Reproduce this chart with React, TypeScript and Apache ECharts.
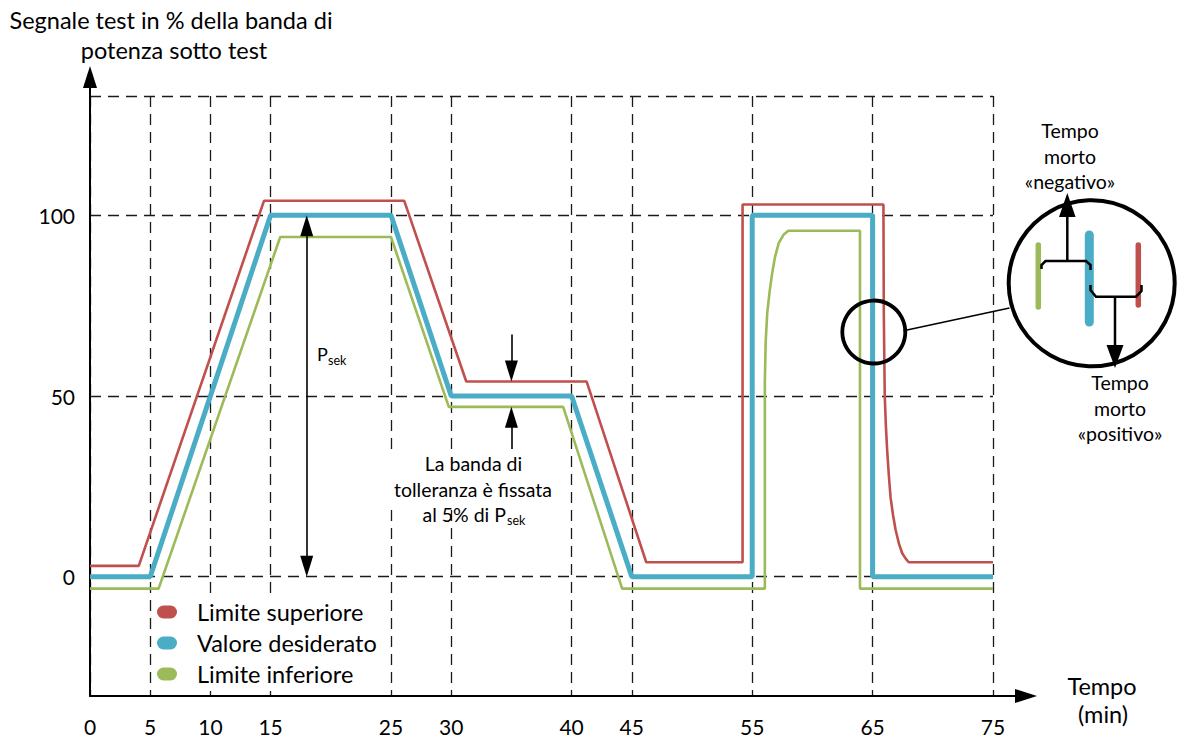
import React, { useEffect, useRef } from "react";
import * as echarts from "echarts";

// ---------- data ----------
const xTicks = [0, 5, 10, 15, 25, 30, 40, 45, 55, 65, 75];
const yLabelValues = [0, 50, 100];
const yGridValues = [0, 50, 100, 133];

const seriesNames = ["Limite superiore", "Valore desiderato", "Limite inferiore"];
const seriesColors = ["#C0504D", "#4BACC6", "#9BBB59"];

const upperLimit: [number, number][] = [
  [0, 3], [4.05, 3], [14.45, 104], [26.1, 104], [31.25, 54], [41.25, 54],
  [46.2, 4], [54.2, 4], [54.2, 103], [65.9, 103], [65.93, 73], [66.01, 50],
  [66.1, 42], [66.21, 35], [66.35, 28], [66.49, 22], [66.7, 17], [66.91, 13],
  [67.2, 9], [67.46, 6.5], [67.75, 5], [68.0, 4], [75, 4],
];

const setpoint: [number, number][] = [
  [0, 0], [5, 0], [15, 100], [25, 100], [30, 50], [40, 50], [45, 0],
  [55, 0], [55, 100], [65, 100], [65, 0], [75, 0],
];

const lowerLimit: [number, number][] = [
  [0, -3.3], [5.7, -3.3], [15.8, 94], [25, 94], [29.8, 47], [39.3, 47],
  [44.2, -3.3], [56.05, -3.3], [56.05, 54], [56.12, 65], [56.25, 73],
  [56.45, 79], [56.66, 84], [56.9, 88.5], [57.2, 92.3], [57.6, 94.6],
  [58.0, 95.7], [63.95, 95.7], [63.95, -3.3], [75, -3.3],
];

const psekArrow: [number, number][] = [[18, 2.9], [18, 97.1]];
const bandArrowTop: [number, number][] = [[35, 67], [35, 56.9]];
const bandArrowBottom: [number, number][] = [[35, 34], [35, 44.1]];
const zoomSpot: [number, number][] = [[65.1, 67.7]];

const FONT = "Lato";

export default function App() {
  const ref = useRef<HTMLDivElement>(null);

  useEffect(() => {
    if (!ref.current) return;
    const chart = echarts.init(ref.current, undefined, { renderer: "svg" });

    const dashed = { color: "#1a1a1a", width: 1.3, type: [11, 7] as any };
    const black = "#000";
    const txt = (x: number, y: number, text: string, fontSize: number, align = "center", z = 11, extra: any = {}) => ({
      type: "text", x, y, z,
      style: { text, fontSize, fontFamily: FONT, fill: black, align, verticalAlign: "middle", ...extra },
    });

    const option: any = {
      animation: false,
      backgroundColor: "#fff",
      textStyle: { fontFamily: FONT },
      grid: [
        { left: 90, top: 96, width: 903, height: 600 },
        { left: 90, top: 77, width: 936, height: 619 },
      ],
      xAxis: [
        {
          type: "value", gridIndex: 0, min: 0, max: 75,
          axisLine: { show: false },
          axisTick: { show: false, customValues: xTicks },
          axisLabel: { customValues: xTicks, fontSize: 21, color: "#000", margin: 20, fontFamily: FONT },
          splitLine: { show: true, lineStyle: dashed },
        },
        {
          type: "value", gridIndex: 1, min: 0, max: 1,
          axisLine: { show: true, onZero: false, symbol: ["none", "triangle"], symbolSize: [14, 22], lineStyle: { color: black, width: 2 } },
          axisTick: { show: false }, axisLabel: { show: false }, splitLine: { show: false },
        },
      ],
      yAxis: [
        {
          type: "value", gridIndex: 0, min: -33, max: 133,
          axisLine: { show: false },
          axisTick: { show: false, customValues: yGridValues },
          axisLabel: { customValues: yLabelValues, fontSize: 21, color: "#000", margin: 15, fontFamily: FONT },
          splitLine: { show: true, lineStyle: dashed },
        },
        {
          type: "value", gridIndex: 1, min: 0, max: 1,
          axisLine: { show: true, onZero: false, symbol: ["none", "triangle"], symbolSize: [14, 22], lineStyle: { color: black, width: 2 } },
          axisTick: { show: false }, axisLabel: { show: false }, splitLine: { show: false },
        },
      ],
      legend: {
        data: seriesNames,
        orient: "vertical",
        left: 154, top: 595, padding: [5, 10, 5, 3],
        backgroundColor: "#fff",
        itemWidth: 20, itemHeight: 13, itemGap: 7,
        icon: "path://M6.5,0 H13.5 A6.5,6.5 0 0 1 13.5,13 H6.5 A6.5,6.5 0 0 1 6.5,0 Z",
        textStyle: { fontSize: 23.5, color: "#000", fontFamily: FONT, lineHeight: 20, padding: [0, 0, 0, 15] },
        selectedMode: false,
      },
      series: [
        {
          name: seriesNames[0], type: "line", data: upperLimit, symbol: "none", clip: false,
          color: seriesColors[0], itemStyle: { color: seriesColors[0] },
          lineStyle: { color: seriesColors[0], width: 2.6 }, z: 3,
        },
        {
          name: seriesNames[2], type: "line", data: lowerLimit, symbol: "none", clip: false,
          color: seriesColors[2], itemStyle: { color: seriesColors[2] },
          lineStyle: { color: seriesColors[2], width: 2.6 }, z: 3,
        },
        {
          name: seriesNames[1], type: "line", data: setpoint, symbol: "none", clip: false,
          color: seriesColors[1], itemStyle: { color: seriesColors[1] },
          lineStyle: { color: seriesColors[1], width: 5 }, z: 4,
          markLine: {
            silent: true,
            symbol: ["triangle", "triangle"],
            symbolSize: [13, 21],
            label: { show: false },
            lineStyle: { color: black, width: 1.6, type: "solid" },
            data: [
              [{ coord: psekArrow[0] }, { coord: psekArrow[1] }],
              [{ coord: bandArrowTop[0], symbol: "none" }, { coord: bandArrowTop[1] }],
              [{ coord: bandArrowBottom[0], symbol: "none" }, { coord: bandArrowBottom[1] }],
            ],
          },
        },
        {
          name: "zoom", type: "scatter", data: zoomSpot, symbol: "circle", symbolSize: 63,
          itemStyle: { color: "rgba(0,0,0,0)", borderColor: black, borderWidth: 3.8, opacity: 1 },
          silent: true, z: 6,
        },
      ],
      graphic: [
        // axis titles
        txt(171, 20, "Segnale test in % della banda di", 23.5),
        txt(174, 50, "potenza sotto test", 23.5),
        txt(1102, 686, "Tempo", 23.5),
        txt(1103, 714, "(min)", 23.5),
        // P_sek
        txt(317, 354, "P", 18, "left"),
        txt(328, 360, "sek", 12.5, "left"),
        // tolerance band text
        { type: "rect", shape: { x: 386, y: 449, width: 172, height: 54 }, style: { fill: "#fff" }, z: 10 },
        txt(473.5, 463, "La banda di", 19.5),
        txt(473, 489, "tolleranza è fissata", 19.5),
        txt(506, 514, "al 5% di P", 19.5, "right"),
        txt(507, 520, "sek", 12.5, "left"),
        // connector to inset
        { type: "line", shape: { x1: 903.5, y1: 330.7, x2: 1009.5, y2: 308 }, style: { stroke: black, lineWidth: 1.5 }, z: 10 },
        // inset
        { type: "circle", shape: { cx: 1091.7, cy: 283.3, r: 83 }, style: { fill: "#fff", stroke: black, lineWidth: 4 }, z: 10 },
        { type: "line", shape: { x1: 1038.3, y1: 245, x2: 1038.3, y2: 307 }, style: { stroke: seriesColors[2], lineWidth: 5.5, lineCap: "round" }, z: 11 },
        { type: "line", shape: { x1: 1089.3, y1: 235, x2: 1089.3, y2: 322 }, style: { stroke: seriesColors[1], lineWidth: 9, lineCap: "round" }, z: 11 },
        { type: "line", shape: { x1: 1138.3, y1: 245, x2: 1138.3, y2: 305 }, style: { stroke: seriesColors[0], lineWidth: 5.5, lineCap: "round" }, z: 11 },
        { type: "polyline", shape: { points: [[1041.5, 269], [1041.5, 265], [1045.5, 261], [1086, 261], [1090.5, 265], [1090.5, 270]] }, style: { stroke: black, lineWidth: 2.5, fill: "none" }, z: 12 },
        { type: "line", shape: { x1: 1067.3, y1: 261, x2: 1067.3, y2: 214 }, style: { stroke: black, lineWidth: 2.5 }, z: 12 },
        { type: "polygon", shape: { points: [[1067.3, 193], [1059, 217], [1075.6, 217]] }, style: { fill: black }, z: 12 },
        { type: "polyline", shape: { points: [[1090.5, 285], [1090.5, 290], [1096, 296.7], [1136, 296.7], [1141.5, 291], [1141.5, 285]] }, style: { stroke: black, lineWidth: 2.5, fill: "none" }, z: 12 },
        { type: "line", shape: { x1: 1115, y1: 296.7, x2: 1115, y2: 347 }, style: { stroke: black, lineWidth: 2.5 }, z: 12 },
        { type: "polygon", shape: { points: [[1115, 368], [1106.5, 345], [1123.5, 345]] }, style: { fill: black }, z: 12 },
        txt(1070, 156, "Tempo\nmorto\n«negativo»", 19.5, "center", 11, { lineHeight: 25.5 }),
        txt(1120, 408, "Tempo\nmorto\n«positivo»", 19.5, "center", 11, { lineHeight: 25.5 }),
      ],
    };

    chart.setOption(option);
    return () => chart.dispose();
  }, []);

  return <div ref={ref} style={{ width: 1178, height: 740, position: "absolute", left: 0, top: 0 }} />;
}
